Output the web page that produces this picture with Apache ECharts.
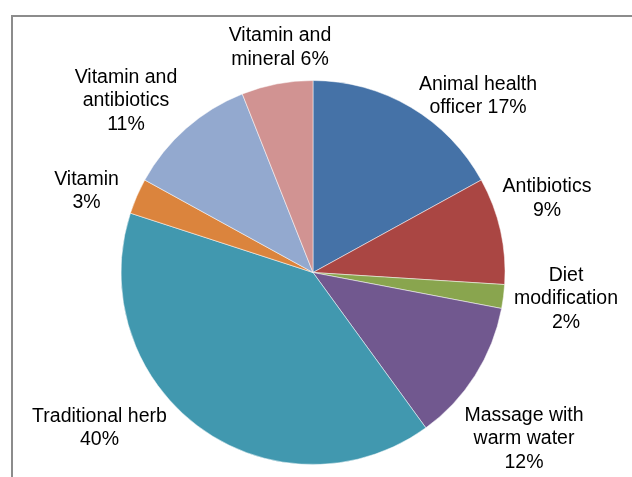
<!DOCTYPE html>
<html>
<head>
<meta charset="utf-8">
<script src="https://cdn.jsdelivr.net/npm/echarts@6/dist/echarts.min.js"></script>
<style>
html,body{margin:0;padding:0;background:#fff;}
#chart{width:632px;height:477px;}
</style>
</head>
<body>
<div id="chart"></div>
<script>
// Data
var categories = ['Animal health officer','Antibiotics','Diet modification','Massage with warm water','Traditional herb','Vitamin','Vitamin and antibiotics','Vitamin and mineral'];
var values = [17, 9, 2, 12, 40, 3, 11, 6];
var labelTexts = [
  'Animal health\nofficer 17%',
  'Antibiotics\n9%',
  'Diet\nmodification\n2%',
  'Massage with\nwarm water\n12%',
  'Traditional herb\n40%',
  'Vitamin\n3%',
  'Vitamin and\nantibiotics\n11%',
  'Vitamin and\nmineral 6%'
];
var colors = ['#4572A7','#AA4643','#89A54E','#71588F','#4198AF','#DB843D','#93A9CF','#D19392'];
// label centre positions (px), as placed in the reference
var labelPos = [[478,96],[547,198.5],[566,299],[524,439],[99.5,428],[86.5,191],[126,101],[280,47.5]];

var chart = echarts.init(document.getElementById('chart'), null, {renderer:'canvas'});
var data = categories.map(function(c,i){
  return {name:c, value:values[i], itemStyle:{color:colors[i]}};
});
chart.setOption({
  animation:false,
  backgroundColor:'#ffffff',
  graphic:[{
    type:'rect',
    shape:{x:12,y:16,width:700,height:600},
    style:{fill:'none',stroke:'#8c8c8c',lineWidth:2},
    silent:true
  }],
  series:[{
    type:'pie',
    center:[313,272.5],
    radius:[0,192],
    startAngle:90,
    clockwise:true,
    avoidLabelOverlap:false,
    data:data,
    itemStyle:{borderColor:'#ffffff',borderWidth:0.5},
    label:{
      show:true,
      position:'outside',
      formatter:function(p){return labelTexts[p.dataIndex];},
      fontFamily:'Liberation Sans, Arial, sans-serif',
      fontSize:19.5,
      lineHeight:23.5,
      color:'#000000',
      align:'center'
    },
    labelLine:{show:false},
    labelLayout:function(p){
      var pos = labelPos[p.dataIndex];
      return {x:pos[0], y:pos[1], align:'center', verticalAlign:'middle', hideOverlap:false};
    },
    emphasis:{disabled:true}
  }]
});
</script>
</body>
</html>
